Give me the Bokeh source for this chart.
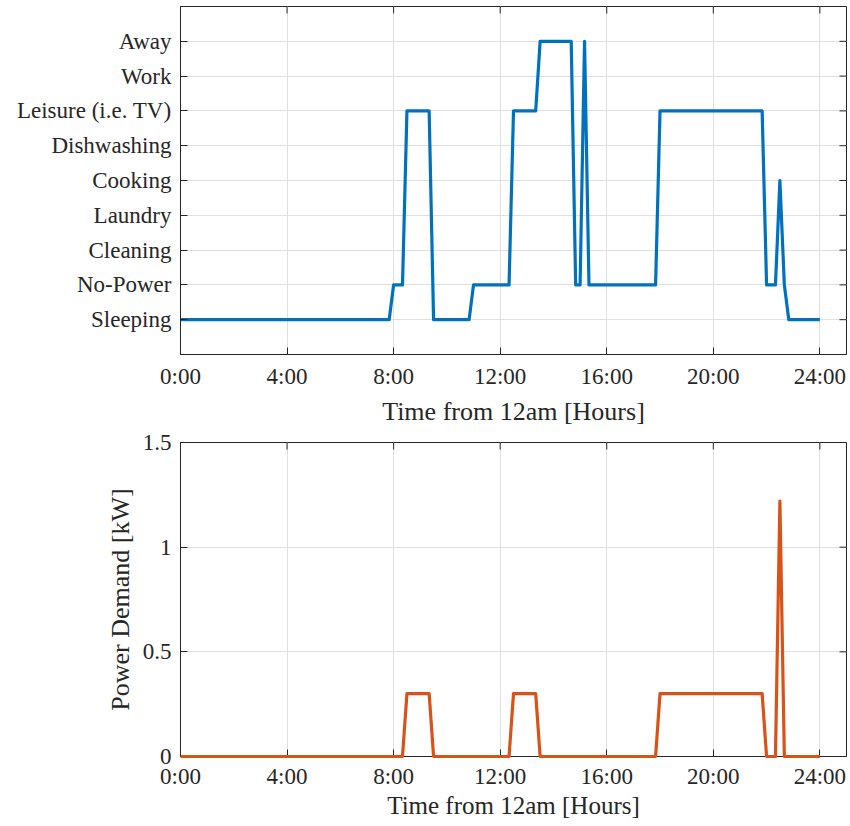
import math
from bokeh.plotting import figure
from bokeh.models import FixedTicker, Range1d, ColumnDataSource
from bokeh.layouts import column
from bokeh.embed import file_html
from bokeh.resources import INLINE

# Activity categories (state code 1..9)
state_labels = ["Sleeping", "No-Power", "Cleaning", "Laundry", "Cooking",
                "Dishwashing", "Leisure (i.e. TV)", "Work", "Away"]
state_codes = [1, 2, 3, 4, 5, 6, 7, 8, 9]

# time stamps, minutes from midnight (10-minute slots)
time_minutes = list(range(0, 1441, 10))

# activity state per 10-minute slot
state = [
    1, 1, 1, 1, 1, 1, 1, 1, 1, 1, 1, 1, 1, 1, 1, 1, 1, 1, 1, 1, 1, 1, 1, 1,
    1, 1, 1, 1, 1, 1, 1, 1, 1, 1, 1, 1, 1, 1, 1, 1, 1, 1, 1, 1, 1, 1, 1, 1,
    2, 2, 2, 7, 7, 7, 7, 7, 7, 1, 1, 1, 1, 1, 1, 1, 1, 1, 2, 2, 2, 2, 2, 2,
    2, 2, 2, 7, 7, 7, 7, 7, 7, 9, 9, 9, 9, 9, 9, 9, 9, 2, 2, 9, 2, 2, 2, 2,
    2, 2, 2, 2, 2, 2, 2, 2, 2, 2, 2, 2, 7, 7, 7, 7, 7, 7, 7, 7, 7, 7, 7, 7,
    7, 7, 7, 7, 7, 7, 7, 7, 7, 7, 7, 7, 2, 2, 2, 5, 2, 1, 1, 1, 1, 1, 1, 1,
    1,
]

# power demand per 10-minute slot [kW]
power = [
    0, 0, 0, 0, 0, 0, 0, 0, 0, 0, 0, 0, 0, 0, 0, 0, 0, 0, 0, 0, 0, 0, 0, 0,
    0, 0, 0, 0, 0, 0, 0, 0, 0, 0, 0, 0, 0, 0, 0, 0, 0, 0, 0, 0, 0, 0, 0, 0,
    0, 0, 0, 0.3, 0.3, 0.3, 0.3, 0.3, 0.3, 0, 0, 0, 0, 0, 0, 0, 0, 0, 0, 0, 0, 0, 0, 0,
    0, 0, 0, 0.3, 0.3, 0.3, 0.3, 0.3, 0.3, 0, 0, 0, 0, 0, 0, 0, 0, 0, 0, 0, 0, 0, 0, 0,
    0, 0, 0, 0, 0, 0, 0, 0, 0, 0, 0, 0, 0.3, 0.3, 0.3, 0.3, 0.3, 0.3, 0.3, 0.3, 0.3, 0.3, 0.3, 0.3,
    0.3, 0.3, 0.3, 0.3, 0.3, 0.3, 0.3, 0.3, 0.3, 0.3, 0.3, 0.3, 0, 0, 0, 1.22, 0, 0, 0, 0, 0, 0, 0, 0,
    0,
]

x_ticks = [0, 4, 8, 12, 16, 20, 24]
x_tick_labels = ["0:00", "4:00", "8:00", "12:00", "16:00", "20:00", "24:00"]
power_ticks = [0, 0.5, 1, 1.5]
power_tick_labels = ["0", "0.5", "1", "1.5"]

hours = [m / 60 for m in time_minutes]
src = ColumnDataSource(dict(t=hours, state=state, power=power))

FONT = "Liberation Serif"
AX = "#262626"
GRID = "#dfdfdf"
TICK_LEN = 7


def style_axis(ax, standoff=9, label_size="26px"):
    ax.axis_line_color = AX
    ax.axis_line_width = 1
    ax.major_tick_line_color = AX
    ax.major_tick_in = TICK_LEN
    ax.major_tick_out = 0
    ax.minor_tick_line_color = None
    ax.major_label_text_font = FONT
    ax.major_label_text_color = AX
    ax.major_label_text_font_size = "23px"
    ax.major_label_standoff = standoff
    ax.axis_label_text_font = FONT
    ax.axis_label_text_font_size = label_size
    ax.axis_label_text_font_style = "normal"
    ax.axis_label_text_color = AX


def box_ticks(p, xt, yt, x_end, y_end):
    # inward ticks on the top and right edges of the box (MATLAB "box on")
    p.ray(x=xt, y=[y_end] * len(xt), length=TICK_LEN, length_units="screen",
          angle=-math.pi / 2, line_color=AX, line_width=1)
    p.ray(x=[x_end] * len(yt), y=yt, length=TICK_LEN, length_units="screen",
          angle=math.pi, line_color=AX, line_width=1)


def make_fig(height, yr, border_left, border_top, border_bottom):
    p = figure(width=848, height=height, x_range=Range1d(0, 25), y_range=yr,
               output_backend="svg", toolbar_location=None,
               min_border_left=border_left, min_border_right=2,
               min_border_top=border_top, min_border_bottom=border_bottom)
    p.outline_line_color = AX
    p.outline_line_width = 1
    p.background_fill_color = "white"
    p.border_fill_color = "white"
    return p


xticker = FixedTicker(ticks=x_ticks)
xlabels = {t: l for t, l in zip(x_ticks, x_tick_labels)}

# ---------- top: activity ----------
p1 = make_fig(428, Range1d(0, 10), 180, 6, 74)
yticker1 = FixedTicker(ticks=state_codes)
p1.xaxis.ticker = xticker
p1.xaxis.major_label_overrides = xlabels
p1.yaxis.ticker = yticker1
p1.yaxis.major_label_overrides = {c: l for c, l in zip(state_codes, state_labels)}
p1.xaxis.axis_label = "Time from 12am [Hours]"
for ax in p1.xaxis + p1.yaxis:
    style_axis(ax)
p1.xgrid.ticker = xticker
p1.ygrid.ticker = yticker1
p1.xgrid.grid_line_color = GRID
p1.ygrid.grid_line_color = GRID
box_ticks(p1, x_ticks, state_codes, 25, 10)
p1.line("t", "state", source=src, line_color="#0072BD", line_width=3.2,
        line_join="round")

# ---------- bottom: power ----------
p2 = make_fig(396, Range1d(0, 1.5), 178, 14, 68)
yticker2 = FixedTicker(ticks=power_ticks)
p2.xaxis.ticker = xticker
p2.xaxis.major_label_overrides = xlabels
p2.yaxis.ticker = yticker2
p2.yaxis.major_label_overrides = {t: l for t, l in zip(power_ticks, power_tick_labels)}
p2.xaxis.axis_label = "Time from 12am [Hours]"
p2.yaxis.axis_label = "Power Demand [kW]"
for ax in p2.yaxis:
    style_axis(ax)
for ax in p2.xaxis:
    style_axis(ax, standoff=7, label_size="25px")
    ax.axis_label_standoff = 0
p2.xgrid.ticker = xticker
p2.ygrid.ticker = yticker2
p2.xgrid.grid_line_color = GRID
p2.ygrid.grid_line_color = GRID
box_ticks(p2, x_ticks, power_ticks, 25, 1.5)
p2.line("t", "power", source=src, line_color="#D95319", line_width=3.2,
        line_join="round", level="overlay")

layout = column(p1, p2, spacing=0)
open("out.html", "w").write(file_html(layout, INLINE))
